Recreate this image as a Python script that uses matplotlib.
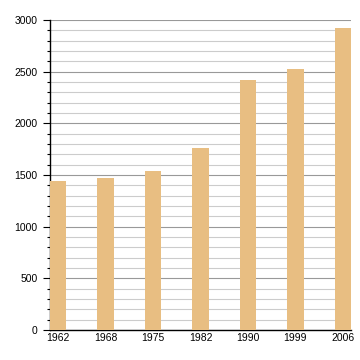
import matplotlib
matplotlib.use("Agg")
import matplotlib.pyplot as plt
from matplotlib.ticker import MultipleLocator

years = ["1962", "1968", "1975", "1982", "1990", "1999", "2006"]
population = [1445, 1475, 1540, 1765, 2420, 2525, 2925]

plt.rcParams['font.family'] = ['Liberation Sans', 'DejaVu Sans']

fig = plt.figure(figsize=(3.6, 3.6), dpi=100)
ax = fig.add_axes([50 / 360, 30 / 360, 301 / 360, 310 / 360])

x = list(range(len(years)))
ax.bar(x, population, width=0.34, color="#E8BE82", zorder=3)

ax.set_xlim(-0.17, len(years) - 1 + 0.17)
ax.set_ylim(0, 3000)
ax.set_xticks(x)
ax.set_xticklabels(years)

ax.yaxis.set_major_locator(MultipleLocator(500))
ax.yaxis.set_minor_locator(MultipleLocator(100))
ax.grid(axis="y", which="minor", color="#cccccc", linewidth=0.8, zorder=0)
ax.grid(axis="y", which="major", color="#999999", linewidth=0.8, zorder=1)

for side in ("top", "right"):
    ax.spines[side].set_visible(False)
ax.spines["left"].set_linewidth(1.0)
ax.spines["bottom"].set_linewidth(1.0)

ax.tick_params(axis="y", which="major", length=5, width=0.8, labelsize=7.5, pad=4)
ax.tick_params(axis="y", which="minor", length=2.5, width=0.8)
ax.tick_params(axis="x", length=0, labelsize=7.5, pad=2)

fig.savefig("out.png", dpi=100)
